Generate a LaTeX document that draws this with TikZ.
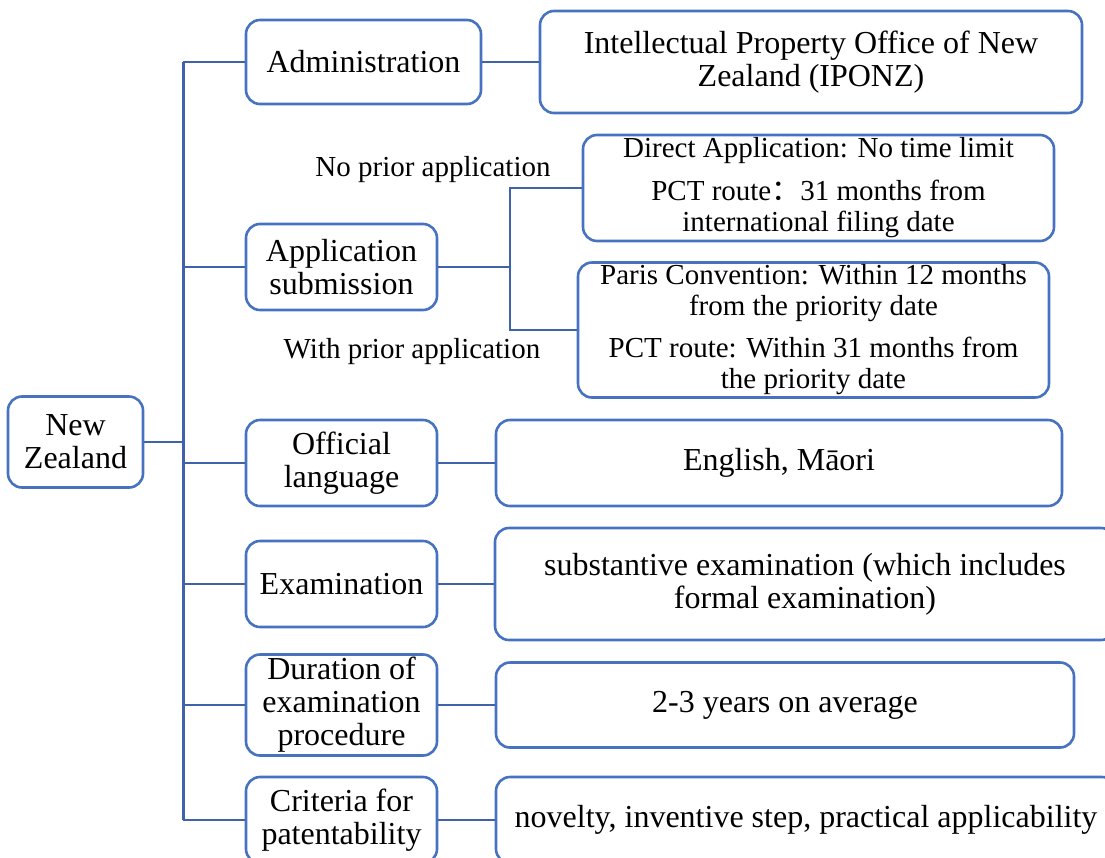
\documentclass[tikz,border=0pt]{standalone}
\usepackage{fontspec}
\setmainfont{Liberation Serif}
\newfontfamily\cjk{Noto Sans CJK SC}
\definecolor{boxblue}{HTML}{4672C0}
\definecolor{lineblue}{HTML}{3E63AA}
\begin{document}
\begin{tikzpicture}[x=1pt,y=-1pt,
  box/.style={draw=boxblue, line width=2.6pt, rounded corners=14pt, align=center, inner sep=0pt, font=\fontsize{32}{33}\selectfont},
  small/.style={font=\fontsize{29}{31}\selectfont, align=center, inner sep=0pt},
  conn/.style={draw=lineblue, line width=2.2pt},
  trunk/.style={draw=lineblue, line width=3pt}]
\useasboundingbox (0,0) rectangle (1105,857);
\clip (0,0) rectangle (1105,857);
% level 0
\node[box, minimum width=135pt, minimum height=91pt] (nz) at (75.5,442) {New\\Zealand};
% level 1
\node[box, minimum width=235pt, minimum height=84pt] (adm) at (363.5,62) {Administration};
\node[box, minimum width=191pt, minimum height=86pt] (app) at (341.5,267) {Application\\submission};
\node[box, minimum width=191pt, minimum height=86pt] (off) at (341.5,463) {Official\\language};
\node[box, minimum width=191pt, minimum height=86pt] (exa) at (341.5,584) {Examination};
\node[box, minimum width=191pt, minimum height=101pt] (dur) at (341.5,705) {Duration of\\examination\\procedure};
\node[box, minimum width=191pt, minimum height=86pt] (cri) at (341.5,820) {Criteria for\\patentability};
% level 2
\node[box, minimum width=542pt, minimum height=102pt] (ipo) at (811,62) {Intellectual Property Office of New\\Zealand (IPONZ)};
\node[box, small, minimum width=471pt, minimum height=106pt] (dir) at (818.5,188) {Direct Application: No time limit\\[12pt]PCT route{\cjk ：}31 months from\\international filing date};
\node[box, small, minimum width=471pt, minimum height=135pt] (par) at (813.5,330) {Paris Convention: Within 12 months\\from the priority date\\[11pt]PCT route: Within 31 months from\\the priority date};
\node[box, minimum width=566pt, minimum height=86pt] (eng) at (779,463) {English, M\=aori};
\node[box, minimum width=620pt, minimum height=112pt] (sub) at (805,584) {substantive examination (which includes\\formal examination)};
\node[box, minimum width=578pt, minimum height=85pt] (yrs) at (785,705) {2-3 years on average};
\node[box, minimum width=620pt, minimum height=86pt] (nov) at (806,820) {novelty, inventive step, practical applicability};
% labels
\node[small] (lno) at (433,170) {No prior application};
\node[small] (lwith) at (412,352) {With prior application};
% connectors
\coordinate (tt) at (183,62);
\coordinate (sp) at (510,267);
\draw[trunk] (adm.west -| tt) -- (cri.west -| tt);
\draw[conn] (nz.east) -- (nz.east -| tt);
\draw[conn] (adm.west -| tt) -- (adm.west);
\draw[conn] (app.west -| tt) -- (app.west);
\draw[conn] (off.west -| tt) -- (off.west);
\draw[conn] (exa.west -| tt) -- (exa.west);
\draw[conn] (dur.west -| tt) -- (dur.west);
\draw[conn] (cri.west -| tt) -- (cri.west);
\draw[conn] (adm.east) -- (ipo.west);
\draw[conn] (off.east) -- (eng.west);
\draw[conn] (exa.east) -- (sub.west);
\draw[conn] (dur.east) -- (yrs.west);
\draw[conn] (cri.east) -- (nov.west);
\draw[conn] (app.east) -- (sp);
\draw[conn] (sp) |- (dir.west);
\draw[conn] (sp) |- (par.west);
\end{tikzpicture}
\end{document}
